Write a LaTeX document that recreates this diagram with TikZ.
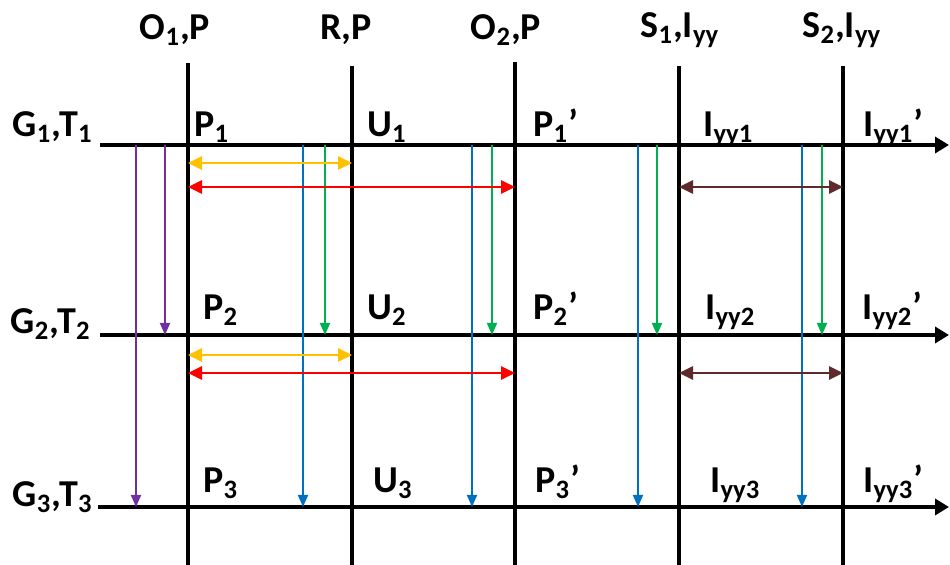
\documentclass[tikz,border=0pt]{standalone}
\usepackage{fontspec}
\setmainfont{Carlito}
\usetikzlibrary{arrows.meta}
\definecolor{axpurple}{HTML}{7030A0}
\definecolor{axyellow}{HTML}{FFC000}
\definecolor{axred}{HTML}{FF0000}
\definecolor{axbrown}{HTML}{5E2A2A}
\definecolor{axblue}{HTML}{0070C0}
\definecolor{axgreen}{HTML}{00B050}
\newcommand{\sub}[1]{\textsubscript{#1}}
\begin{document}
\begin{tikzpicture}[x=0.5pt, y=-0.5pt,
    axis/.style = {line width=2pt},
    lbl/.style = {font=\bfseries\fontsize{19}{19}\selectfont, inner sep=0pt},
    down/.style = {line width=0.9pt, -{Triangle[length=6pt,width=5pt]}},
    both/.style = {line width=1.4pt, {Triangle[length=7pt,width=6.5pt]}-{Triangle[length=7pt,width=6.5pt]}}]
    \useasboundingbox (0,0) rectangle (950,565);
    % Axes
    \coordinate (v1) at (188,63);
    \coordinate (v2) at (352,66);
    \coordinate (v3) at (515,62);
    \coordinate (v4) at (679,66);
    \coordinate (v5) at (843,66);
    \coordinate (bot) at (0,565);
    \coordinate (h1) at (100,145);
    \coordinate (h2) at (100,335);
    \coordinate (h3) at (98,507);
    \coordinate (rgt) at (949,0);
    \draw[axis] (v1) -- (v1 |- bot);
    \draw[axis] (v2) -- (v2 |- bot);
    \draw[axis] (v3) -- (v3 |- bot);
    \draw[axis] (v4) -- (v4 |- bot);
    \draw[axis] (v5) -- (v5 |- bot);
    \draw[axis, -{Triangle[length=7pt,width=8pt]}] (h1) -- (rgt |- h1);
    \draw[axis, -{Triangle[length=7pt,width=8pt]}] (h2) -- (rgt |- h2);
    \draw[axis, -{Triangle[length=7pt,width=8pt]}] (h3) -- (rgt |- h3);
    % Top labels
    \node[lbl, anchor=base] (o1) at (175,40) {O\sub{1},P};
    \node[lbl, anchor=base] (r) at (346,40) {R,P};
    \node[lbl, anchor=base] (o2) at (506,40) {O\sub{2},P};
    \node[lbl, anchor=base] (s1) at (680,38) {S\sub{1},I\sub{yy}};
    \node[lbl, anchor=base] (s2) at (842,38) {S\sub{2},I\sub{yy}};
    % Left labels
    \node[lbl, anchor=base east] (g1) at (93,137) {G\sub{1},T\sub{1}};
    \node[lbl, anchor=base east] (g2) at (91,334) {G\sub{2},T\sub{2}};
    \node[lbl, anchor=base east] (g3) at (93,507) {G\sub{3},T\sub{3}};
    % Point labels
    \node[lbl, anchor=base west] (p1) at (194,137) {P\sub{1}};
    \node[lbl, anchor=base west] (u1) at (367,137) {U\sub{1}};
    \node[lbl, anchor=base west] (q1) at (533,137) {P\sub{1}’};
    \node[lbl, anchor=base west] (i1) at (703,137) {I\sub{yy1}};
    \node[lbl, anchor=base west] (j1) at (863,137) {I\sub{yy1}’};
    \node[lbl, anchor=base west] (p2) at (203,320) {P\sub{2}};
    \node[lbl, anchor=base west] (u2) at (367,320) {U\sub{2}};
    \node[lbl, anchor=base west] (q2) at (533,320) {P\sub{2}’};
    \node[lbl, anchor=base west] (i2) at (705,320) {I\sub{yy2}};
    \node[lbl, anchor=base west] (j2) at (862,320) {I\sub{yy2}’};
    \node[lbl, anchor=base west] (p3) at (203,493) {P\sub{3}};
    \node[lbl, anchor=base west] (u3) at (373,493) {U\sub{3}};
    \node[lbl, anchor=base west] (q3) at (535,493) {P\sub{3}’};
    \node[lbl, anchor=base west] (i3) at (710,493) {I\sub{yy3}};
    \node[lbl, anchor=base west] (j3) at (863,493) {I\sub{yy3}’};
    % Vertical arrows
    \coordinate (a1) at (136,0);
    \coordinate (a2) at (165,0);
    \coordinate (b1) at (303,0);
    \coordinate (b2) at (472,0);
    \coordinate (b3) at (638,0);
    \coordinate (b4) at (802,0);
    \coordinate (c1) at (325,0);
    \coordinate (c2) at (492,0);
    \coordinate (c3) at (657,0);
    \coordinate (c4) at (822,0);
    \draw[down, axpurple] (a1 |- h1) -- (a1 |- h3);
    \draw[down, axpurple] (a2 |- h1) -- (a2 |- h2);
    \draw[down, axblue] (b1 |- h1) -- (b1 |- h3);
    \draw[down, axblue] (b2 |- h1) -- (b2 |- h3);
    \draw[down, axblue] (b3 |- h1) -- (b3 |- h3);
    \draw[down, axblue] (b4 |- h1) -- (b4 |- h3);
    \draw[down, axgreen] (c1 |- h1) -- (c1 |- h2);
    \draw[down, axgreen] (c2 |- h1) -- (c2 |- h2);
    \draw[down, axgreen] (c3 |- h1) -- (c3 |- h2);
    \draw[down, axgreen] (c4 |- h1) -- (c4 |- h2);
    % Horizontal arrows
    \coordinate (y1) at (0,163);
    \coordinate (y2) at (0,187);
    \coordinate (y3) at (0,355);
    \coordinate (y4) at (0,373);
    \draw[both, axyellow] (v1 |- y1) -- (v2 |- y1);
    \draw[both, axred] (v1 |- y2) -- (v3 |- y2);
    \draw[both, axbrown] (v4 |- y2) -- (v5 |- y2);
    \draw[both, axyellow] (v1 |- y3) -- (v2 |- y3);
    \draw[both, axred] (v1 |- y4) -- (v3 |- y4);
    \draw[both, axbrown] (v4 |- y4) -- (v5 |- y4);
\end{tikzpicture}
\end{document}
